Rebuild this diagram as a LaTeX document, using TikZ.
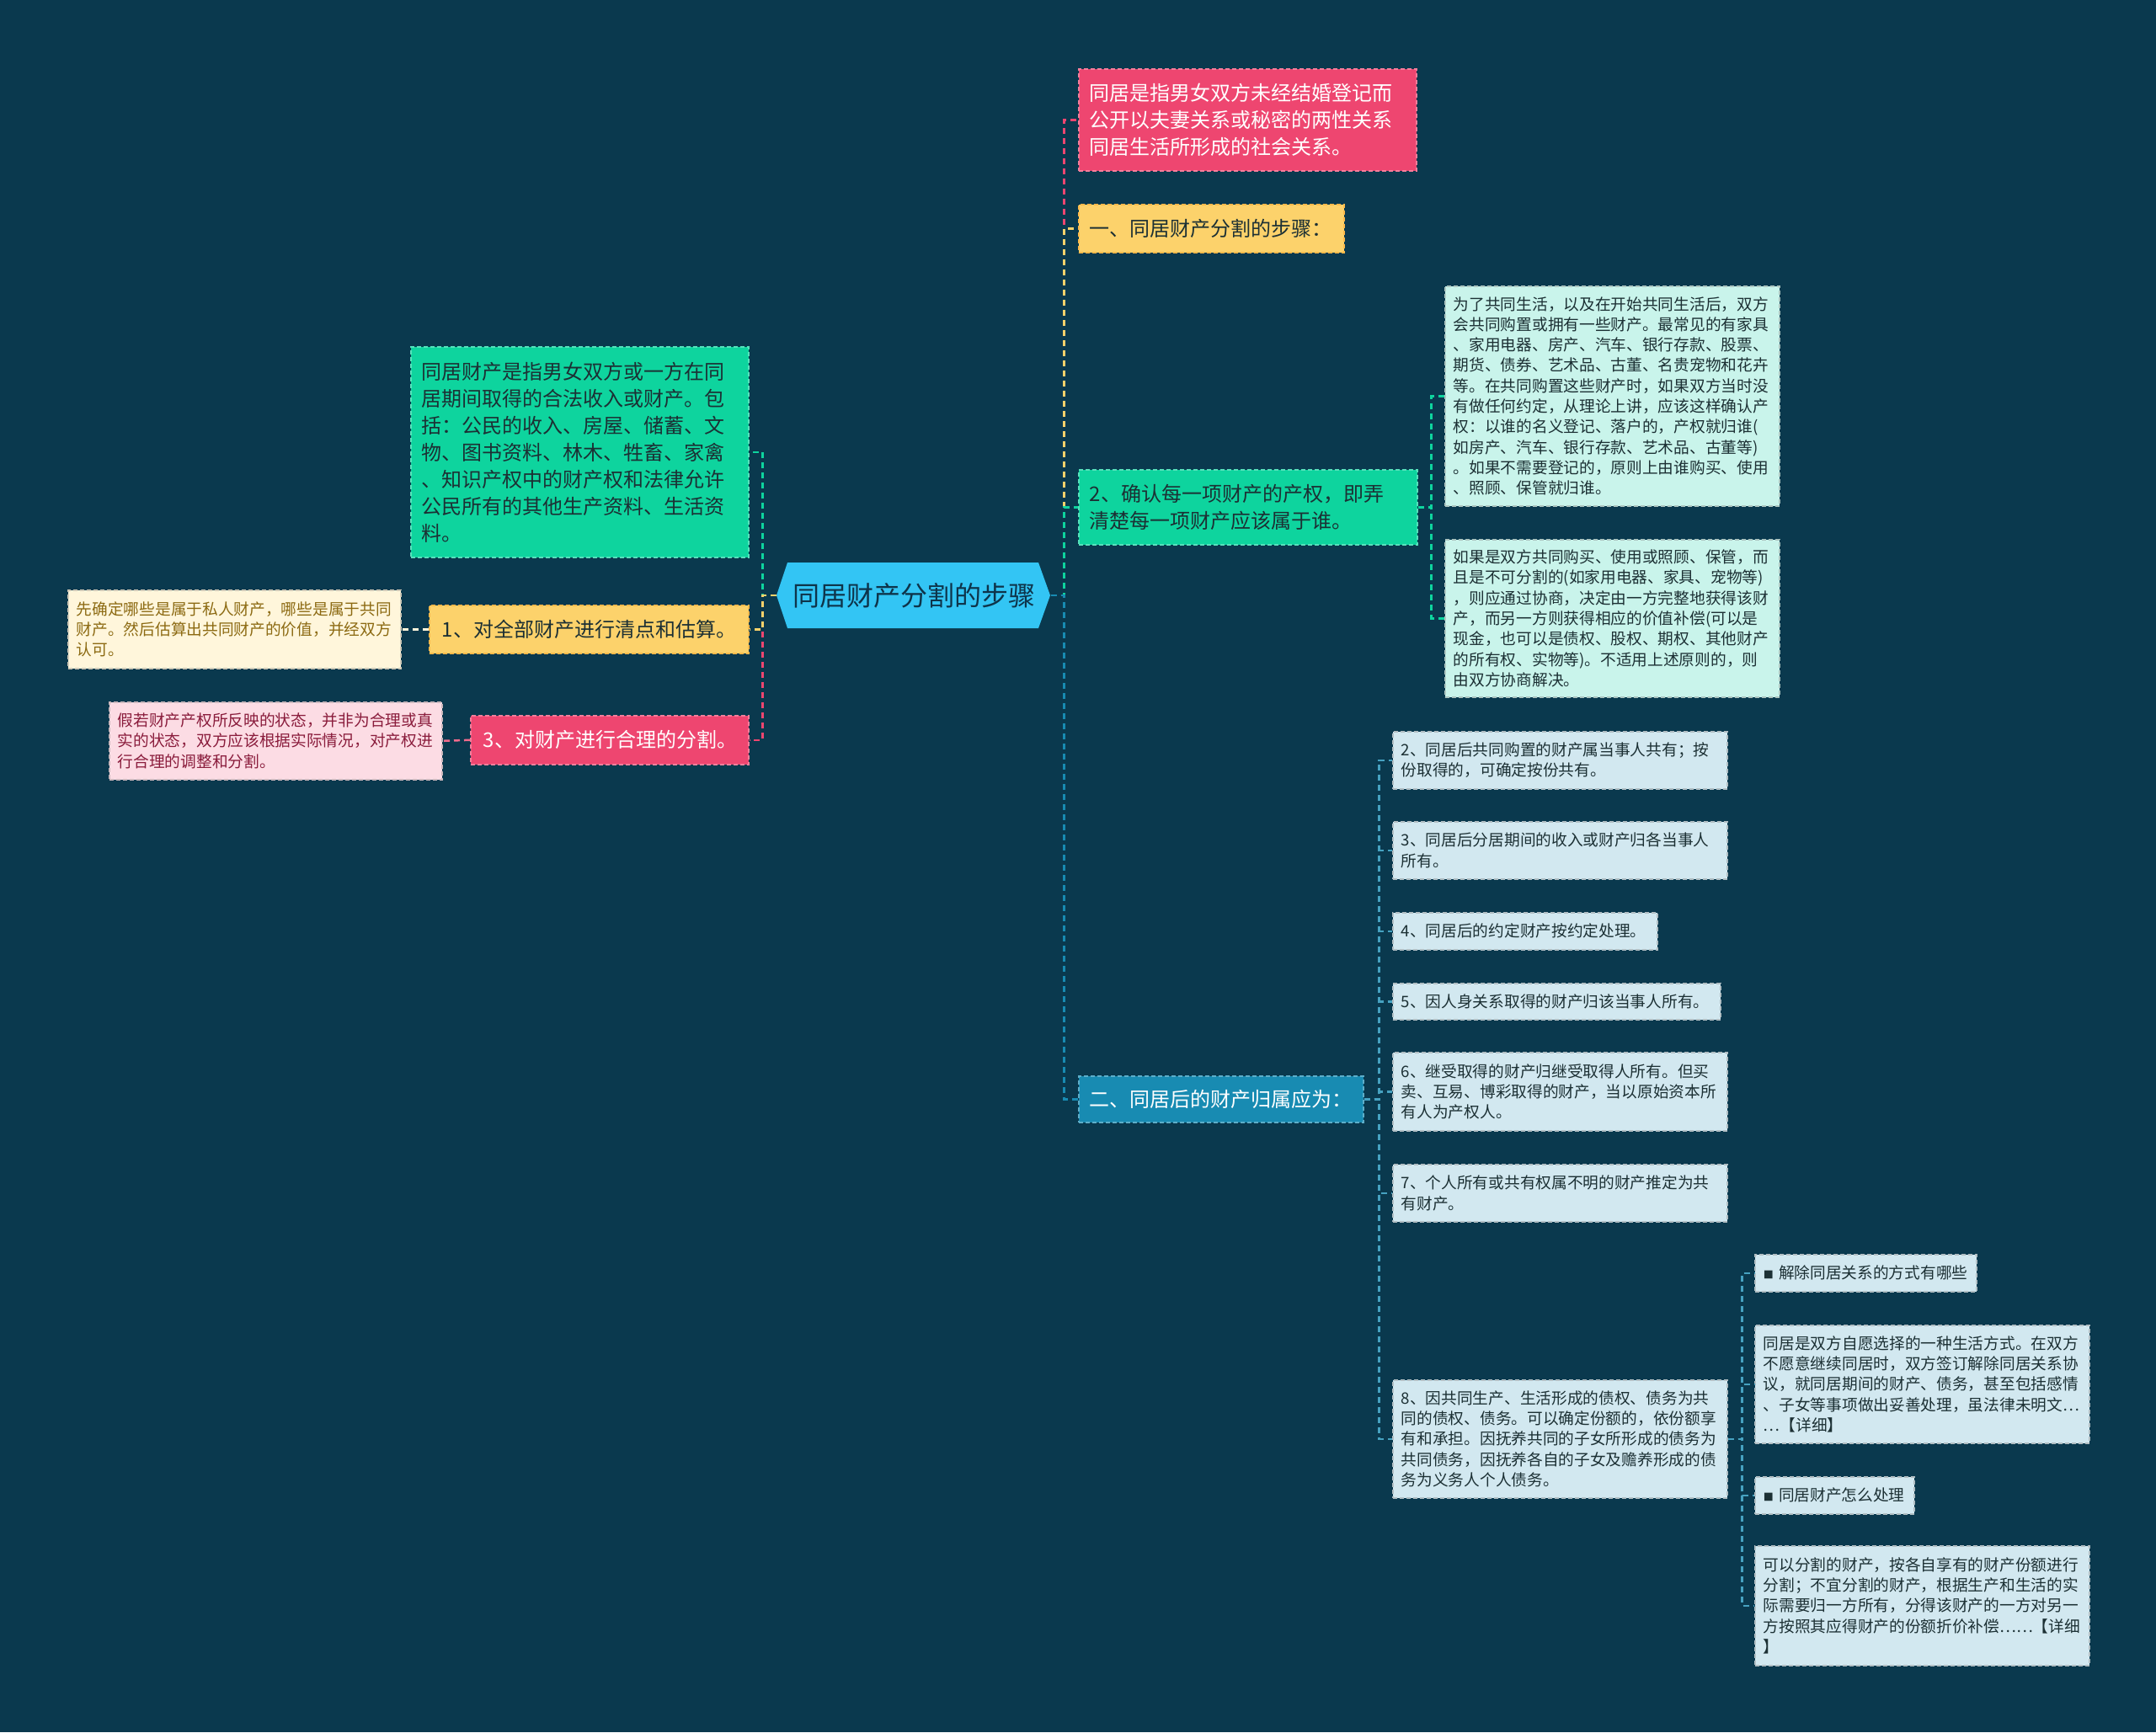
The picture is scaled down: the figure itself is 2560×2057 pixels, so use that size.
\documentclass[tikz,border=0pt]{standalone}
\usepackage{fontspec}
\setmainfont{Noto Sans CJK SC}
\definecolor{bgc}{RGB}{10,57,78}
\definecolor{hexc}{RGB}{51,197,244}
\definecolor{hextext}{RGB}{14,52,74}
\definecolor{cpink}{RGB}{238,70,112}
\definecolor{cyellow}{RGB}{252,210,107}
\definecolor{cgreen}{RGB}{14,212,158}
\definecolor{cblue}{RGB}{24,139,178}
\definecolor{lcyan}{RGB}{201,244,235}
\definecolor{lblue}{RGB}{210,232,240}
\definecolor{lyellow}{RGB}{255,246,219}
\definecolor{lpink}{RGB}{252,220,228}
\definecolor{darktext}{RGB}{28,48,52}
\definecolor{ytext}{RGB}{140,106,18}
\definecolor{ptext}{RGB}{138,28,60}
\tikzset{
  conn/.style={line width=2.5, dash pattern=on 7 off 5},
  box/.style={anchor=north west, rectangle, line width=1.6, dash pattern=on 5 off 3, inner ysep=0, align=left},
  big/.style={box, font=\fontsize{24}{32}\selectfont, inner xsep=13},
  small/.style={box, font=\fontsize{18.7}{24.3}\selectfont, inner xsep=10, text=darktext},
  pinkbox/.style={big, fill=cpink, draw=cpink!70!white, text=white},
  yellowbox/.style={big, fill=cyellow, draw=cyellow!70!orange, text=darktext},
  greenbox/.style={big, fill=cgreen, draw=cgreen!70!white, text=darktext},
  bluebox/.style={big, fill=cblue, draw=cblue!70!white, text=white},
  cyanbox/.style={small, fill=lcyan, draw=lcyan!60!gray},
  lbluebox/.style={small, fill=lblue, draw=lblue!60!gray},
}
\begin{document}
\begin{tikzpicture}[x=1pt,y=-1pt]
\fill[bgc] (0,0) rectangle (2560,2057);
\useasboundingbox (0,0) rectangle (2560,2057);

% central hexagon
\fill[hexc] (922,707) -- (935,668) -- (1233,668) -- (1247,707) -- (1233,746) -- (935,746) -- cycle;
\node[minimum width=325, minimum height=78, inner sep=0, text=hextext, font=\fontsize{32}{38}\selectfont] (c) at (1085,707) {同居财产分割的步骤};

% right side nodes
\node[pinkbox, text width=375, minimum height=121] (p1) at (1280,81) {同居是指男女双方未经结婚登记而\\公开以夫妻关系或秘密的两性关系\\同居生活所形成的社会关系。};
\node[yellowbox, text width=289, minimum height=57] (y1) at (1280,242) {一、同居财产分割的步骤：};
\node[greenbox, text width=376, minimum height=89] (n2) at (1280,557) {2、确认每一项财产的产权，即弄\\清楚每一项财产应该属于谁。};
\node[cyanbox, text width=377, minimum height=261] (d1) at (1715,339) {为了共同生活，以及在开始共同生活后，双方\\会共同购置或拥有一些财产。最常见的有家具\\、家用电器、房产、汽车、银行存款、股票、\\期货、债券、艺术品、古董、名贵宠物和花卉\\等。在共同购置这些财产时，如果双方当时没\\有做任何约定，从理论上讲，应该这样确认产\\权：以谁的名义登记、落户的，产权就归谁(\\如房产、汽车、银行存款、艺术品、古董等)\\。如果不需要登记的，原则上由谁购买、使用\\、照顾、保管就归谁。};
\node[cyanbox, text width=377, minimum height=187] (d2) at (1715,640) {如果是双方共同购买、使用或照顾、保管，而\\且是不可分割的(如家用电器、家具、宠物等)\\，则应通过协商，决定由一方完整地获得该财\\产，而另一方则获得相应的价值补偿(可以是\\现金，也可以是债权、股权、期权、其他财产\\的所有权、实物等)。不适用上述原则的，则\\由双方协商解决。};
\node[bluebox, text width=312, minimum height=55] (n3) at (1280,1277) {二、同居后的财产归属应为：};

\node[lbluebox, text width=377, minimum height=68] (e1) at (1653,868) {2、同居后共同购置的财产属当事人共有；按\\份取得的，可确定按份共有。};
\node[lbluebox, text width=377, minimum height=68] (e2) at (1653,975) {3、同居后分居期间的收入或财产归各当事人\\所有。};
\node[lbluebox, text width=294, minimum height=44] (e3) at (1653,1083) {4、同居后的约定财产按约定处理。};
\node[lbluebox, text width=369, minimum height=43] (e4) at (1653,1167) {5、因人身关系取得的财产归该当事人所有。};
\node[lbluebox, text width=377, minimum height=93] (e5) at (1653,1249) {6、继受取得的财产归继受取得人所有。但买\\卖、互易、博彩取得的财产，当以原始资本所\\有人为产权人。};
\node[lbluebox, text width=377, minimum height=68] (e6) at (1653,1382) {7、个人所有或共有权属不明的财产推定为共\\有财产。};
\node[lbluebox, text width=377, minimum height=140] (e7) at (1653,1638) {8、因共同生产、生活形成的债权、债务为共\\同的债权、债务。可以确定份额的，依份额享\\有和承担。因抚养共同的子女所形成的债务为\\共同债务，因抚养各自的子女及赡养形成的债\\务为义务人个人债务。};

\node[lbluebox, text width=243, minimum height=44] (f1) at (2083,1489) {{\fontsize{12}{12}\selectfont ■}\ 解除同居关系的方式有哪些};
\node[lbluebox, text width=377, minimum height=140] (f2) at (2083,1573) {同居是双方自愿选择的一种生活方式。在双方\\不愿意继续同居时，双方签订解除同居关系协\\议，就同居期间的财产、债务，甚至包括感情\\、子女等事项做出妥善处理，虽法律未明文…\\…【详细】};
\node[lbluebox, text width=169, minimum height=44] (f3) at (2083,1753) {{\fontsize{12}{12}\selectfont ■}\ 同居财产怎么处理};
\node[lbluebox, text width=377, minimum height=142] (f4) at (2083,1835) {可以分割的财产，按各自享有的财产份额进行\\分割；不宜分割的财产，根据生产和生活的实\\际需要归一方所有，分得该财产的一方对另一\\方按照其应得财产的份额折价补偿……【详细\\】};

% left side nodes
\node[greenbox, text width=375, minimum height=250] (g1) at (487,411) {同居财产是指男女双方或一方在同\\居期间取得的合法收入或财产。包\\括：公民的收入、房屋、储蓄、文\\物、图书资料、林木、牲畜、家禽\\、知识产权中的财产权和法律允许\\公民所有的其他生产资料、生活资\\料。};
\node[yellowbox, inner xsep=15, text width=349, minimum height=57] (y2) at (509,718) {1、对全部财产进行清点和估算。};
\node[small, fill=lyellow, draw=lyellow!60!gray, text=ytext, text width=375, minimum height=93] (ly) at (80,700) {先确定哪些是属于私人财产，哪些是属于共同\\财产。然后估算出共同财产的价值，并经双方\\认可。};
\node[pinkbox, inner xsep=15, text width=300, minimum height=58] (r3) at (558,849) {3、对财产进行合理的分割。};
\node[small, fill=lpink, draw=lpink!60!gray, text=ptext, text width=375, minimum height=92] (lp) at (129,833) {假若财产产权所反映的状态，并非为合理或真\\实的状态，双方应该根据实际情况，对产权进\\行合理的调整和分割。};

% connectors
\draw[conn, cpink] (c.east) -- ++(16,0) |- (p1.west);
\draw[conn, cyellow] (c.east) -- ++(16,0) |- (y1.west);
\draw[conn, cgreen] (c.east) -- ++(16,0) |- (n2.west);
\draw[conn, cblue] (c.east) -- ++(16,0) |- (n3.west);
\draw[conn, cgreen] (c.west) -- ++(-17,0) |- (g1.east);
\draw[conn, cpink] (c.west) -- ++(-17,0) |- (r3.east);
\draw[conn, cyellow] (c.west) -- ++(-17,0) |- (y2.east);
\draw[conn, cgreen] (n2.east) -- ++(16,0) |- (d1.west);
\draw[conn, cgreen] (n2.east) -- ++(16,0) |- (d2.west);
\foreach \t in {e7,e6,e5,e4,e3,e2,e1}{\draw[conn, cblue!80!white] (n3.east) -- ++(18,0) |- (\t.west);}
\foreach \t in {f4,f3,f2,f1}{\draw[conn, cblue!80!white] (e7.east) -- ++(17,0) |- (\t.west);}
\draw[conn, lyellow] (y2.west) -- (ly.east);
\draw[conn, cpink!80!white] (r3.west) -- (lp.east);
\end{tikzpicture}
\end{document}
